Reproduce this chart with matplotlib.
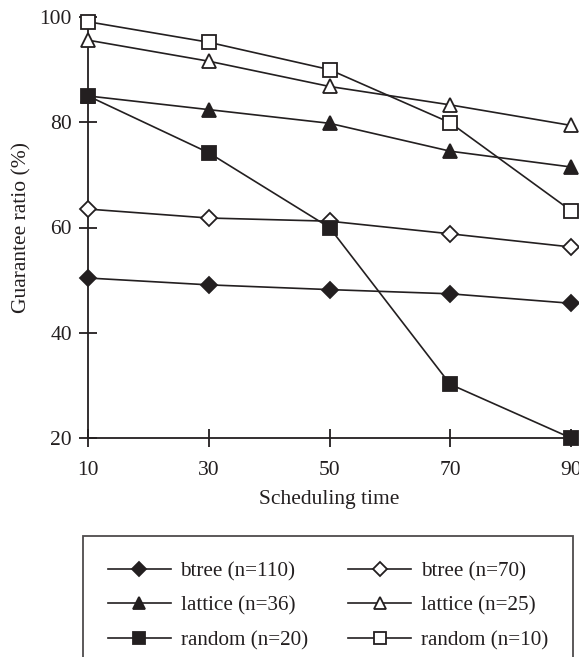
import matplotlib
matplotlib.use("Agg")
import matplotlib.pyplot as plt

plt.rcParams['font.family'] = ['Liberation Serif', 'DejaVu Serif']

sched_time = [10, 30, 50, 70, 90]
btree_110 = [50.4, 49.1, 48.2, 47.4, 45.6]
btree_70 = [63.5, 61.8, 61.2, 58.8, 56.3]
lattice_36 = [85.0, 82.4, 79.8, 74.5, 71.5]
lattice_25 = [95.6, 91.6, 86.8, 83.3, 79.4]
random_20 = [85.0, 74.2, 60.0, 30.2, 20.0]
random_10 = [99.1, 95.2, 90.0, 79.9, 63.2]
labels = ["btree (n=110)", "btree (n=70)", "lattice (n=36)", "lattice (n=25)",
          "random (n=20)", "random (n=10)"]

ink = '#231f20'
fs = 15.5
fig = plt.figure(figsize=(5.79, 6.57), dpi=100)
ax = fig.add_axes([88/579, 1-438/657, (571-88)/579, (438-17)/657])

series = [
    (btree_110, 'D', ink, 8),
    (btree_70, 'D', 'white', 8),
    (lattice_36, '^', ink, 10),
    (lattice_25, '^', 'white', 10),
    (random_20, 's', ink, 10),
    (random_10, 's', 'white', 10),
]
handles = []
for (vals, mk, fc, ms), lab in zip(series, labels):
    h, = ax.plot(sched_time, vals, color=ink, lw=1.2, marker=mk, ms=ms,
                 mfc=fc, mec=ink, mew=1.3, clip_on=False, zorder=3, label=lab)
    handles.append(h)

ax.set_xlim(10, 90)
ax.set_ylim(20, 100)
ax.set_xticks(sched_time)
ax.set_yticks([20, 40, 60, 80, 100])
for s in ['top', 'right']:
    ax.spines[s].set_visible(False)
for s in ['left', 'bottom']:
    ax.spines[s].set_linewidth(1.3)
    ax.spines[s].set_color(ink)
ax.tick_params(direction='inout', length=12.5, width=1.3, color=ink,
               labelsize=fs, labelcolor=ink)
ax.tick_params(axis='x', pad=10.5)
ax.tick_params(axis='y', pad=5.3)
ax.set_xlabel("Scheduling time", fontsize=fs, color=ink)
ax.set_ylabel("Guarantee ratio (%)", fontsize=fs, color=ink)
ax.xaxis.set_label_coords(0.5, -0.124)
ax.yaxis.set_label_coords(-0.118, 0.5)

order = [0, 2, 4, 1, 3, 5]
leg = fig.legend([handles[i] for i in order], [labels[i] for i in order],
                 loc='upper left', ncol=2,
                 bbox_to_anchor=(83/579, 1-536/657),
                 fontsize=15.2, frameon=True, fancybox=False, edgecolor=ink,
                 handlelength=2.95, handletextpad=0.47, columnspacing=1.93,
                 labelspacing=0.7, borderpad=1.2, borderaxespad=0,
                 markerscale=0.85)
leg.get_frame().set_linewidth(1.3)
for t in leg.get_texts():
    t.set_color(ink)

fig.savefig("out.png", dpi=100)
